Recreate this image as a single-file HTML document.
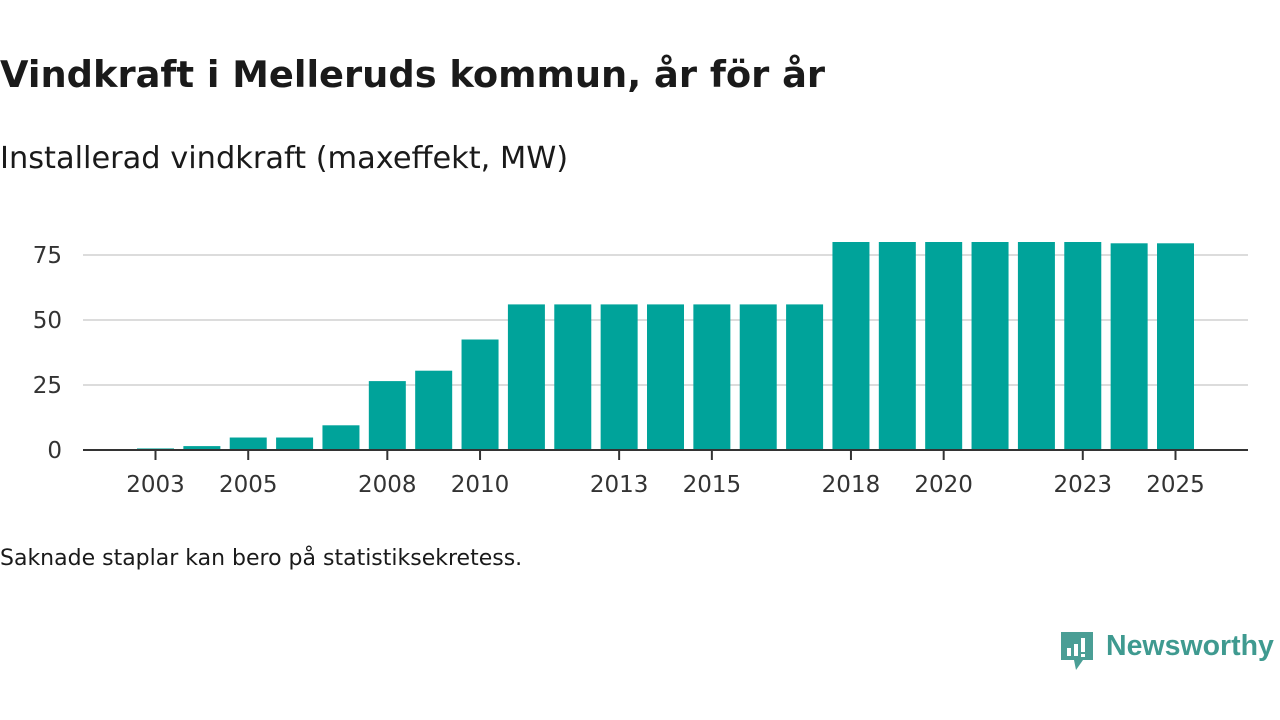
<!DOCTYPE html>
<html><head><meta charset="utf-8"><style>
body{margin:0;width:1280px;height:720px;background:#fff;font-family:"DejaVu Sans","Liberation Sans",sans-serif;color:#1a1a1a;position:relative;overflow:hidden}
.t{position:absolute;white-space:nowrap}
</style></head><body>
<div class="t" style="left:0;top:53px;font-size:36.8px;font-weight:bold;letter-spacing:0px">Vindkraft i Melleruds kommun, år för år</div>
<div class="t" style="left:0;top:141px;font-size:30.4px;letter-spacing:0px">Installerad vindkraft (maxeffekt, MW)</div>
<svg id="chart" width="1280" height="720" style="position:absolute;left:0;top:0"></svg>
<div class="t" style="left:0;top:546px;font-size:22px;">Saknade staplar kan bero på statistiksekretess.</div>
<div style="position:absolute;left:1059px;top:630px;">
<svg width="36" height="44" viewBox="0 0 36 44"><path d="M2 2h32v28H24l-7 10-2-10H2z" fill="#4a9e95"/><rect x="8" y="18" width="4" height="8" fill="#fff"/><rect x="15" y="14" width="4" height="12" fill="#fff"/><rect x="22" y="8" width="4" height="14" fill="#fff"/><rect x="22" y="24" width="4" height="3" fill="#fff"/></svg>
<span class="t" style="left:47px;top:0px;font-size:28.5px;color:#3f9a90;font-family:'Liberation Sans',sans-serif;font-weight:bold;">Newsworthy</span>
</div>
<script>
const years=[2003,2004,2005,2006,2007,2008,2009,2010,2011,2012,2013,2014,2015,2016,2017,2018,2019,2020,2021,2022,2023,2024,2025];
const values=[0.6,1.5,4.8,4.8,9.5,26.5,30.5,42.5,56,56,56,56,56,56,56,80,80,80,80,80,80,79.5,79.5];
const yTicks=[0,25,50,75];
const xLabels=[2003,2005,2008,2010,2013,2015,2018,2020,2023,2025];
const NS="http://www.w3.org/2000/svg";
const svg=document.getElementById('chart');
const x=y=>155.5+(y-2003)*(1175.5-155.5)/22;
const yS=v=>450-v*2.6;
const bw=37;
function mk(t,a){const e=document.createElementNS(NS,t);for(const k in a)e.setAttribute(k,a[k]);svg.appendChild(e);return e;}
yTicks.forEach(v=>{
 if(v>0){const g=mk('line',{x1:83,x2:1248,y1:yS(v),y2:yS(v),stroke:'#dcdcdc','stroke-width':2});
 
 }
 const t=mk('text',{x:62,y:yS(v)+8,'text-anchor':'end','font-size':23,fill:'#333'});
 
 
 t.textContent=v;
});
years.forEach((yr,i)=>{
 const r=mk('rect',{x:x(yr)-bw/2,y:yS(values[i]),width:bw,height:450-yS(values[i]),fill:'#00a39a'});
 
 
});
const ax=mk('line',{x1:83,x2:1248,y1:450,y2:450,stroke:'#333','stroke-width':2});


xLabels.forEach(yr=>{
 const tk=mk('line',{x1:x(yr),x2:x(yr),y1:450,y2:460,stroke:'#333','stroke-width':2});
 
 
 const t=mk('text',{x:x(yr),y:492,'text-anchor':'middle','font-size':23,fill:'#333'});
 
 
 t.textContent=yr;
});
</script>
</body></html>
